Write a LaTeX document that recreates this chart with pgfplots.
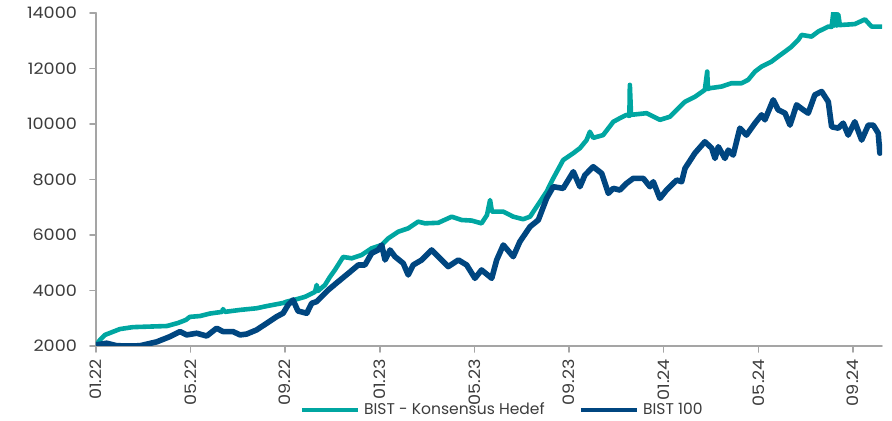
\documentclass[border=0pt]{standalone}
\usepackage{pgfplots}
\pgfplotsset{compat=1.18}
\usepackage{fontspec}
\setmainfont{Poppins}
\newfontfamily\tickfont[FakeStretch=1.12]{Poppins}
\definecolor{konsensus}{RGB}{0,166,161}
\definecolor{bist}{RGB}{0,70,128}
\definecolor{axisgray}{RGB}{165,165,165}
\definecolor{labelgray}{RGB}{60,60,60}

% x: months since January 2022
\pgfplotstableread{
x y
0.00 2040
0.17 2220
0.38 2400
0.59 2470
1.01 2610
1.56 2680
2.28 2700
3.00 2720
3.47 2830
3.80 2940
3.97 3050
4.40 3080
4.82 3170
5.33 3230
5.37 3330
5.45 3230
6.09 3300
6.79 3360
7.23 3440
7.48 3480
7.91 3550
8.07 3600
8.50 3690
8.83 3770
9.26 3950
9.33 4200
9.38 3980
9.68 4200
9.89 4490
10.10 4740
10.45 5210
10.81 5160
11.23 5280
11.65 5520
12.08 5640
12.36 5880
12.78 6120
13.20 6240
13.62 6480
13.91 6420
14.47 6440
15.04 6660
15.46 6540
15.88 6520
16.30 6420
16.53 6720
16.66 7260
16.74 6840
17.22 6840
17.64 6660
18.06 6570
18.35 6660
18.63 7020
19.05 7560
19.33 8040
19.75 8700
20.18 8950
20.46 9130
20.74 9420
20.88 9720
21.02 9500
21.44 9600
21.87 10080
22.15 10210
22.43 10330
22.55 10290
22.57 11410
22.62 10330
23.28 10390
23.84 10150
24.26 10260
24.68 10620
24.90 10800
25.32 10980
25.74 11230
25.84 11890
25.87 11260
25.95 11290
26.45 11350
26.87 11470
27.29 11470
27.57 11590
27.86 11890
28.14 12070
28.56 12250
28.84 12430
29.13 12610
29.41 12790
29.69 13030
29.83 13210
30.25 13150
30.53 13330
30.96 13510
31.10 13500
31.17 14000
31.22 13550
31.27 14000
31.32 13550
31.38 13950
31.45 13560
31.52 13570
32.08 13600
32.51 13770
32.79 13510
33.21 13510
}\konsensustable

\pgfplotstableread{
x y
0.00 2040
0.45 2100
0.88 2010
1.44 2000
1.86 2010
2.57 2150
3.13 2340
3.55 2520
3.83 2400
4.26 2460
4.68 2360
5.10 2640
5.37 2520
5.79 2520
6.09 2400
6.37 2430
6.79 2580
7.22 2820
7.64 3060
7.91 3180
8.12 3480
8.33 3660
8.54 3260
8.91 3180
9.12 3540
9.33 3600
9.82 4020
10.24 4320
10.67 4620
11.09 4920
11.37 4920
11.65 5340
11.93 5460
12.08 5640
12.22 5100
12.43 5460
12.64 5220
12.99 4980
13.20 4560
13.41 4920
13.77 5100
14.19 5460
14.47 5220
14.89 4860
15.32 5100
15.67 4920
16.02 4440
16.30 4740
16.73 4440
16.94 5100
17.22 5640
17.64 5220
17.92 5760
18.35 6300
18.70 6540
19.05 7320
19.33 7740
19.75 7680
20.18 8280
20.46 7740
20.67 8160
21.02 8460
21.38 8220
21.66 7500
21.87 7680
22.15 7620
22.43 7860
22.71 8040
23.14 8040
23.42 7740
23.56 7920
23.84 7320
24.12 7620
24.55 7980
24.76 7920
24.90 8400
25.32 8950
25.74 9360
26.03 9130
26.17 8760
26.31 9180
26.59 8760
26.73 9060
26.94 8880
27.22 9850
27.50 9600
27.86 10030
28.14 10330
28.28 10150
28.63 10870
28.84 10510
29.13 10390
29.34 9960
29.62 10690
29.90 10510
30.11 10390
30.39 11050
30.68 11170
30.96 10800
31.10 9900
31.38 9850
31.59 10030
31.80 9600
32.08 10080
32.37 9420
32.65 9960
32.86 9960
33.07 9670
33.14 8950
33.21 9180
}\bisttable

\begin{document}
\begin{tikzpicture}
\begin{axis}[
  name=ax,
  width=393bp, height=166.5bp, scale only axis,
  xmin=0, xmax=33.23, ymin=2000, ymax=14000,
  axis lines=left,
  axis line style={-, draw=axisgray, line width=0.8bp},
  tick style={draw=axisgray, line width=0.8bp},
  tick align=outside, major tick length=3bp,
  xtick={0,4,8,12,16,20,24,28,32},
  xticklabels={01.22,05.22,09.22,01.23,05.23,09.23,01.24,05.24,09.24},
  x tick label style={rotate=90, anchor=east},
  ytick={2000,4000,...,14000},
  scaled y ticks=false,
  y tick label style={xshift=-3bp},
  /pgf/number format/1000 sep={},
  /pgf/number format/assume math mode=true,
  tick label style={font=\tickfont\fontsize{7.9}{9}\selectfont, text=labelgray},
  legend style={at={(0.518,-0.192)}, anchor=center, draw=none, fill=none,
    font=\fontsize{7.8}{9}\selectfont, text=labelgray,
    /tikz/every even column/.append style={column sep=15bp}},
  legend columns=2,
  legend image code/.code={\draw[#1, line width=2.2bp] (0,0) -- (28bp,0);},
  line join=round, line cap=round,
]
\addplot[konsensus, line width=2.3bp] table[x=x,y=y] {\konsensustable};
\addlegendentry{BIST - Konsensus Hedef}
\addplot[bist, line width=2.8bp] table[x=x,y=y] {\bisttable};
\addlegendentry{BIST 100}
\end{axis}
\pgfresetboundingbox
\path[use as bounding box] ([xshift=-48bp,yshift=-37.5bp]ax.south west) rectangle ([xshift=5bp,yshift=6.5bp]ax.north east);
\end{tikzpicture}
\end{document}
